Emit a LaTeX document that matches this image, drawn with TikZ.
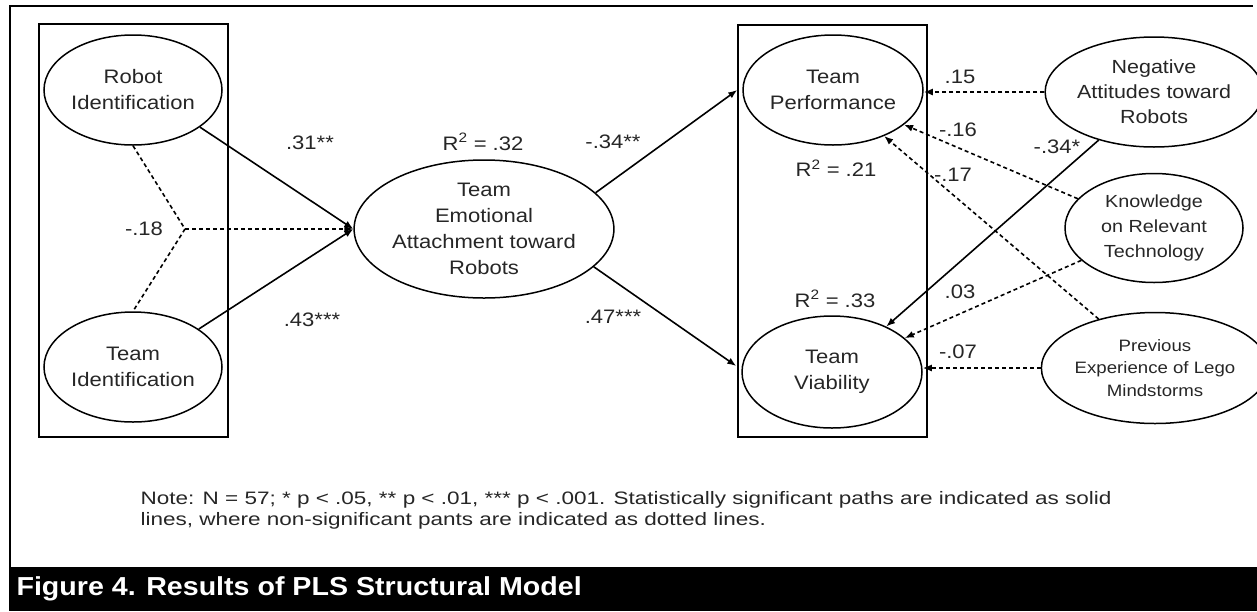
\documentclass[tikz,border=0pt]{standalone}
\usepackage{fontspec}
\setmainfont{Liberation Sans}[FakeStretch=1.13]
\newfontfamily\capfont{Liberation Sans}[FakeStretch=1.1]
\newfontfamily\notefont{Liberation Sans}[FakeStretch=1.25]
\usetikzlibrary{arrows.meta,shapes.geometric}
\tikzset{>={Latex[length=9pt,width=7pt]}}
\tikzset{
  latent/.style={ellipse,draw,line width=1.5pt,inner sep=0pt,align=center,
    minimum width=178pt,minimum height=110pt,text=black!85,
    font=\fontsize{19.5}{26}\selectfont},
  coef/.style={text=black!85,font=\fontsize{19.5}{24}\selectfont},
  sig/.style={->,line width=1.6pt},
  nonsig/.style={->,line width=1.6pt,dash pattern=on 4pt off 3pt},
  groupbox/.style={line width=2pt}
}

\begin{document}
\begin{tikzpicture}[x=1pt,y=-1pt]
\useasboundingbox (0,0) rectangle (1257,611);

% frame and caption bar
\fill[black] (9,567) rectangle (1257,611);
\draw[line width=2pt] (10,567) -- (10,6) -- (1253,6);
\node (caption) [anchor=west,text=white,font=\capfont\bfseries\fontsize{26}{30}\selectfont] at (13,589) {Figure 4. Results of PLS Structural Model};

% boxes round the exogenous and the outcome constructs
\draw[groupbox] (39,24) rectangle (228,437);
\draw[groupbox] (738,25) rectangle (927,437);

% constructs
\node (robot)  [latent] at (133,90) {Robot\\Identification};
\node (teamid) [latent] at (133,367) {Team\\Identification};
\node (emo)    [latent,minimum width=213pt,minimum height=138pt] at (484,229) {Team\\Emotional\\Attachment toward\\Robots};
\node (perf)   [latent,minimum width=180pt] at (833,90) {Team\\Performance};
\node (viab)   [latent,minimum width=180pt,minimum height=112pt] at (832,372) {Team\\Viability};
\node (neg)    [latent,font=\fontsize{19}{25}\selectfont] at (1154,92) {Negative\\Attitudes toward\\Robots};
\node (know)   [latent,font=\fontsize{17.5}{25}\selectfont,minimum height=109pt] at (1154,228) {Knowledge\\on Relevant\\Technology};
\node (prev)   [latent,font=\fontsize{16.5}{22.5}\selectfont,minimum width=180pt,minimum height=111pt] at (1155,368) {Previous\\Experience of Lego\\Mindstorms};

% paths into emotional attachment
\coordinate (fork) at (185,229);
\draw[line width=1.6pt,dash pattern=on 4pt off 3pt] (robot.south) -- (fork) -- (teamid.north);
\draw[nonsig] (fork) -- (emo.west);
\draw[sig] (robot.-29) -- (emo.west);
\draw[sig] (teamid.30) -- (emo.west);

% paths into the outcomes
\draw[sig] (emo.18) -- ([xshift=-5pt]perf.west);
\draw[sig] (emo.-19) -- ([shift={(-5pt,6pt)}]viab.west);

% control variables
\draw[nonsig] (neg.west) -- (neg.west -| perf.east);
\draw[nonsig] (know.159) -- (perf.-26);
\draw[nonsig] (prev.139) -- (perf.-42);
\draw[sig] (neg.221) -- (viab.40);
\draw[nonsig] (know.204) -- (viab.25);
\draw[nonsig] (prev.west) -- (prev.west -| viab.east);

% coefficients and R squared
\node (lab31)  [coef] at (310,143) {.31**};
\node (lab43)  [coef] at (312,320) {.43***};
\node (lab18)  [coef] at (144,229) {-.18};
\node (r2emo)  [coef] at (483,142) {R\textsuperscript{2} = .32};
\node (lab34)  [coef] at (613,142) {-.34**};
\node (lab47)  [coef] at (613,317) {.47***};
\node (r2perf) [coef] at (836,168) {R\textsuperscript{2} = .21};
\node (r2viab) [coef] at (835,299) {R\textsuperscript{2} = .33};
\node (lab15)  [coef] at (960,77) {.15};
\node (lab16)  [coef] at (958,130) {-.16};
\node (lab17)  [coef] at (953,175) {-.17};
\node (lab34b) [coef] at (1057,147) {-.34*};
\node (lab03)  [coef] at (960,292) {.03};
\node (lab07)  [coef] at (958,352) {-.07};

% note
\node (note) [anchor=west,align=left,text=black!85,font=\notefont\fontsize{18}{21}\selectfont] at (137,510)
  {Note: N = 57; * p < .05, ** p < .01, *** p < .001. Statistically significant paths are indicated as solid\\
   lines, where non-significant pants are indicated as dotted lines.};
\end{tikzpicture}
\end{document}
